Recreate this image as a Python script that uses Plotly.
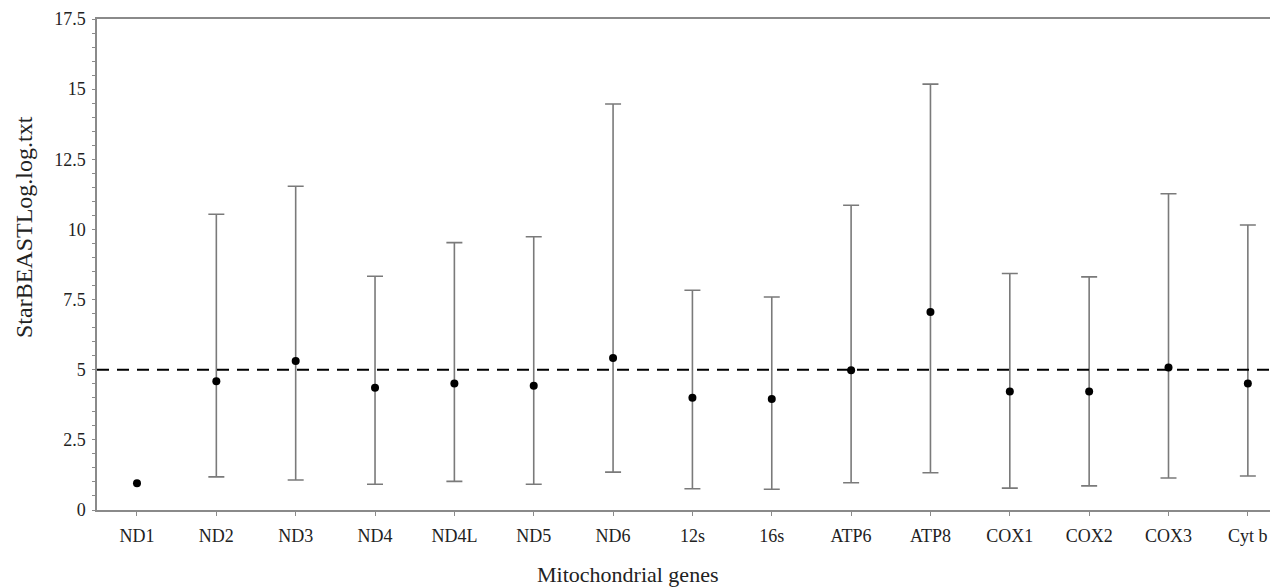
import plotly.graph_objects as go

genes = ["ND1", "ND2", "ND3", "ND4", "ND4L", "ND5", "ND6", "12s", "16s",
         "ATP6", "ATP8", "COX1", "COX2", "COX3", "Cyt b"]
mean_vals = [0.95, 4.59, 5.31, 4.36, 4.51, 4.43, 5.42, 4.00, 3.96,
             4.98, 7.06, 4.22, 4.22, 5.08, 4.51]
upper_vals = [None, 10.54, 11.54, 8.33, 9.53, 9.74, 14.47, 7.83, 7.59,
              10.86, 15.18, 8.43, 8.31, 11.27, 10.16]
lower_vals = [None, 1.18, 1.07, 0.92, 1.02, 0.92, 1.35, 0.76, 0.74,
              0.97, 1.33, 0.78, 0.86, 1.14, 1.21]
threshold = 5
y_ticks = [0, 2.5, 5, 7.5, 10, 12.5, 15, 17.5]
y_ticktext = ["0", "2.5", "5", "7.5", "10", "12.5", "15", "17.5"]

xs = list(range(len(genes)))
err_plus = [None if u is None else u - m for u, m in zip(upper_vals, mean_vals)]
err_minus = [None if l is None else m - l for l, m in zip(lower_vals, mean_vals)]

SERIF = "Liberation Serif, Times New Roman, serif"
AXIS_COLOR = "#8a8a8a"
TXT = "#222222"

fig = go.Figure()

# error bars (drawn first, below markers)
eb_x = [x for x, u in zip(xs, upper_vals) if u is not None]
eb_y = [m for m, u in zip(mean_vals, upper_vals) if u is not None]
eb_p = [p for p in err_plus if p is not None]
eb_m = [m for m in err_minus if m is not None]
fig.add_trace(go.Scatter(
    x=eb_x, y=eb_y, mode="markers",
    marker=dict(size=1, color="rgba(0,0,0,0)"),
    error_y=dict(type="data", symmetric=False, array=eb_p, arrayminus=eb_m,
                 color="#7a7a7a", thickness=1.6, width=8),
    showlegend=False, hoverinfo="skip",
))

fig.add_trace(go.Scatter(
    x=xs, y=mean_vals, mode="markers",
    marker=dict(size=8, color="black"),
    showlegend=False,
))

fig.add_shape(type="line", xref="paper", yref="y", x0=0, x1=1,
              y0=threshold, y1=threshold,
              line=dict(color="black", width=2, dash="12px,8px"))

# page body has an 8px margin; figure is sized/offset to compensate
fig.update_layout(
    width=1270, height=580,
    margin=dict(l=89, r=0, t=11, b=78),
    plot_bgcolor="white", paper_bgcolor="white",
    font=dict(family=SERIF, color=TXT),
    xaxis=dict(
        range=[-0.504, 14.38],
        tickmode="array", tickvals=xs, ticktext=genes,
        tickfont=dict(size=18, family=SERIF, color=TXT),
        showgrid=False, zeroline=False,
        showline=True, linecolor=AXIS_COLOR, linewidth=1.5, mirror=True,
        ticks="outside", ticklen=4, tickcolor=AXIS_COLOR, tickwidth=1,
        ticklabelstandoff=5,
    ),
    yaxis=dict(
        range=[0, 17.5],
        tickmode="array", tickvals=y_ticks, ticktext=y_ticktext,
        tickfont=dict(size=18, family=SERIF, color=TXT),
        showgrid=False, zeroline=False,
        showline=True, linecolor=AXIS_COLOR, linewidth=1.5,
        ticks="outside", ticklen=3, tickcolor=AXIS_COLOR, tickwidth=1,
        ticklabelstandoff=3,
        minor=dict(dtick=0.5, tick0=0, ticks="outside", ticklen=3,
                   tickcolor=AXIS_COLOR, tickwidth=1, showgrid=False),
    ),
    annotations=[
        dict(text="StarBEASTLog.log.txt", xref="paper", yref="paper",
             x=(24 - 97) / 1181, y=(510 - 227) / 491, textangle=-90,
             showarrow=False, xanchor="center", yanchor="middle",
             font=dict(size=24, family=SERIF, color=TXT)),
        dict(text="Mitochondrial genes", xref="paper", yref="paper",
             x=(627 - 97) / 1181, y=-(574 - 510) / 491,
             showarrow=False, xanchor="center", yanchor="middle",
             font=dict(size=22, family=SERIF, color=TXT)),
    ],
)

fig.write_html("out.html")
